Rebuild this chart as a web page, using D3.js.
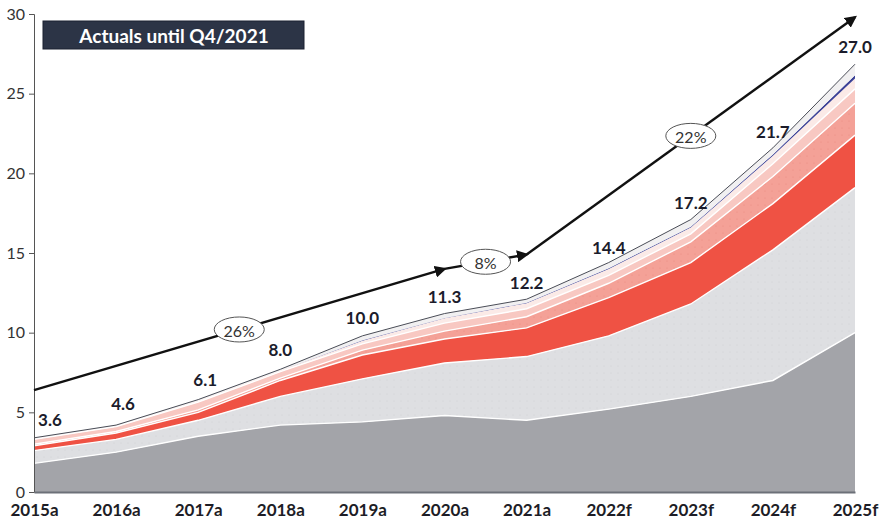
<!DOCTYPE html>
<html>
<head>
<meta charset="utf-8">
<script src="https://cdn.jsdelivr.net/npm/d3@7"></script>
<style>
  html, body { margin: 0; padding: 0; background: #fff; }
  svg { display: block; font-family: Lato, "Open Sans", sans-serif; }
</style>
</head>
<body>
<svg id="chart" width="883" height="523"></svg>
<script>
"use strict";

// categories and totals
const years = ['2015a', '2016a', '2017a', '2018a', '2019a', '2020a', '2021a', '2022f', '2023f', '2024f', '2025f'];
const totals = [3.6, 4.6, 6.1, 8.0, 10.0, 11.3, 12.2, 14.4, 17.2, 21.7, 27.0];

// stacked segments, bottom to top
const baseGray   = [1.8, 2.5, 3.5, 4.2, 4.4, 4.8, 4.5, 5.2, 6.0, 7.0, 10.0];
const lightGray  = [0.8, 0.8, 1.0, 1.8, 2.7, 3.3, 4.0, 4.6, 5.8, 8.2, 9.1];
const red        = [0.3, 0.4, 0.5, 1.0, 1.5, 1.5, 1.8, 2.4, 2.6, 2.9, 3.3];
const salmon     = [0.1, 0.1, 0.15, 0.15, 0.3, 0.5, 0.7, 0.9, 1.3, 1.7, 2.0];
const pink       = [0.3, 0.3, 0.5, 0.4, 0.4, 0.5, 0.5, 0.5, 0.5, 0.8, 0.9];
const paleRose   = [0.05, 0.05, 0.07, 0.07, 0.2, 0.3, 0.35, 0.4, 0.4, 0.5, 0.65];
const navy       = [0, 0, 0, 0, 0.02, 0.02, 0.03, 0.05, 0.05, 0.08, 0.2];
const topSliver  = [0.05, 0.05, 0.08, 0.08, 0.28, 0.28, 0.22, 0.35, 0.45, 0.42, 0.7];

// growth arrows: [from, value, to, value, label]
const cagrArrows = [
  ['2015a', 6.4, '2020a', 14.0, '26%'],
  ['2020a', 14.0, '2021a', 14.9, '8%'],
  ['2021a', 14.9, '2025f', 29.8, '22%']
];

const yTicks = [0, 5, 10, 15, 20, 25, 30];

const svg = d3.select('#chart');
const margin = { left: 34, right: 28, top: 14, bottom: 31 };
const width = 883, height = 523;

const x = d3.scalePoint().domain(years).range([margin.left, width - margin.right]);
const y = d3.scaleLinear().domain([0, 30]).range([height - margin.bottom, margin.top]);

const keys = ['baseGray', 'lightGray', 'red', 'salmon', 'pink', 'paleRose', 'navy', 'topSliver'];
const seriesData = { baseGray, lightGray, red, salmon, pink, paleRose, navy, topSliver };
const colors = {
  baseGray: '#a3a4a9',
  lightGray: '#dedfe2',
  red: '#ef5244',
  salmon: '#f4a197',
  pink: '#f8c8c2',
  paleRose: '#fbeae7',
  navy: '#3b4196',
  topSliver: '#f1f0f1'
};

const rows = years.map((yr, i) => {
  let r = { year: yr };
  keys.forEach((k) => { r[k] = seriesData[k][i]; });
  return r;
});

const stacked = d3.stack().keys(keys)(rows);

// patterns for the dotted layers
const defs = svg.append('defs');
function dots(id, bg, dot) {
  let p = defs.append('pattern').attr('id', id)
    .attr('width', 7).attr('height', 7).attr('patternUnits', 'userSpaceOnUse');
  p.append('rect').attr('width', 7).attr('height', 7).attr('fill', bg);
  p.append('circle').attr('cx', 2).attr('cy', 2).attr('r', 0.6).attr('fill', dot);
}
dots('dotGray', colors.lightGray, '#cfd0d4');
dots('dotSalmon', colors.salmon, '#ea8c82');

defs.append('marker').attr('id', 'arrow')
  .attr('viewBox', '0 0 10 10').attr('refX', 8).attr('refY', 5)
  .attr('markerWidth', 5).attr('markerHeight', 5).attr('orient', 'auto')
  .append('path').attr('d', 'M0,0 L10,5 L0,10 Z').attr('fill', '#111');

const curve = d3.curveLinear;
const area = d3.area()
  .x((d) => x(d.data.year))
  .y0((d) => y(d[0]))
  .y1((d) => y(d[1]))
  .curve(curve);

const fillFor = (k) => k === 'lightGray' ? 'url(#dotGray)' : (k === 'salmon' ? 'url(#dotSalmon)' : colors[k]);

svg.append('g').selectAll('path')
  .data(stacked)
  .join('path')
  .attr('d', area)
  .attr('fill', (d) => fillFor(d.key));

// white separators between layers
const line = d3.line()
  .x((d) => x(d.data.year))
  .y((d) => y(d[1]))
  .curve(curve);

svg.append('g').selectAll('path')
  .data(stacked.filter((s) => ['baseGray', 'lightGray', 'red', 'salmon', 'pink'].includes(s.key)))
  .join('path')
  .attr('d', line)
  .attr('fill', 'none')
  .attr('stroke', '#fff')
  .attr('stroke-width', 1.4);

// outline on top of the stack
svg.append('path')
  .attr('d', line(stacked[stacked.length - 1]))
  .attr('fill', 'none')
  .attr('stroke', '#4a4d57')
  .attr('stroke-width', 1);

// axes
const yAxis = svg.append('g').attr('transform', `translate(${margin.left},0)`)
  .call(d3.axisLeft(y).tickValues(yTicks).tickSize(5).tickPadding(4));
yAxis.select('.domain').attr('stroke', '#555');
yAxis.selectAll('.tick line').attr('stroke', '#555');
yAxis.selectAll('text').attr('font-size', 16).attr('fill', '#333').attr('font-family', 'Lato, sans-serif');

const xAxis = svg.append('g').attr('transform', `translate(0,${y(0)})`)
  .call(d3.axisBottom(x).tickSize(0).tickPadding(12));
xAxis.select('.domain').attr('stroke', '#6c7078').attr('stroke-width', 1.8);
xAxis.selectAll('text').attr('font-size', 17).attr('font-weight', 'bold')
  .attr('fill', '#1d1d26').attr('font-family', 'Lato, sans-serif');

// total labels
svg.append('g').selectAll('text')
  .data(years)
  .join('text')
  .attr('x', (d, i) => x(d) + (i === 0 ? 16 : (i === 1 || i === 2 ? 7 : 0)))
  .attr('y', (d, i) => y(totals[i]) - 15)
  .attr('text-anchor', 'middle')
  .attr('dominant-baseline', 'central')
  .attr('font-size', 17)
  .attr('font-weight', 'bold')
  .attr('fill', '#1b1c2b')
  .text((d, i) => totals[i].toFixed(1));

// growth arrows with ellipses
const arrows = svg.append('g');
cagrArrows.forEach(([a, va, b, vb, label]) => {
  let x0 = x(a), y0 = y(va), x1 = x(b), y1 = y(vb);
  arrows.append('line')
    .attr('x1', x0).attr('y1', y0).attr('x2', x1).attr('y2', y1)
    .attr('stroke', '#111').attr('stroke-width', 2.4)
    .attr('marker-end', 'url(#arrow)');
  let mx = (x0 + x1) / 2, my = (y0 + y1) / 2;
  arrows.append('ellipse')
    .attr('cx', mx).attr('cy', my).attr('rx', 25).attr('ry', 12.5)
    .attr('fill', '#fff').attr('stroke', '#555').attr('stroke-width', 1);
  arrows.append('text')
    .attr('x', mx).attr('y', my + 1)
    .attr('text-anchor', 'middle').attr('dominant-baseline', 'central')
    .attr('font-size', 16).attr('fill', '#333')
    .text(label);
});

// "actuals" banner
const banner = svg.append('g');
banner.append('rect')
  .attr('x', 43).attr('y', 21).attr('width', 261).attr('height', 28)
  .attr('fill', '#2c3446').attr('stroke', '#1b2130').attr('stroke-width', 1);
banner.append('text')
  .attr('x', 174).attr('y', 35.5)
  .attr('text-anchor', 'middle').attr('dominant-baseline', 'central')
  .attr('font-size', 19).attr('font-weight', 'bold').attr('fill', '#fff')
  .text('Actuals until Q4/2021');
</script>
</body>
</html>
